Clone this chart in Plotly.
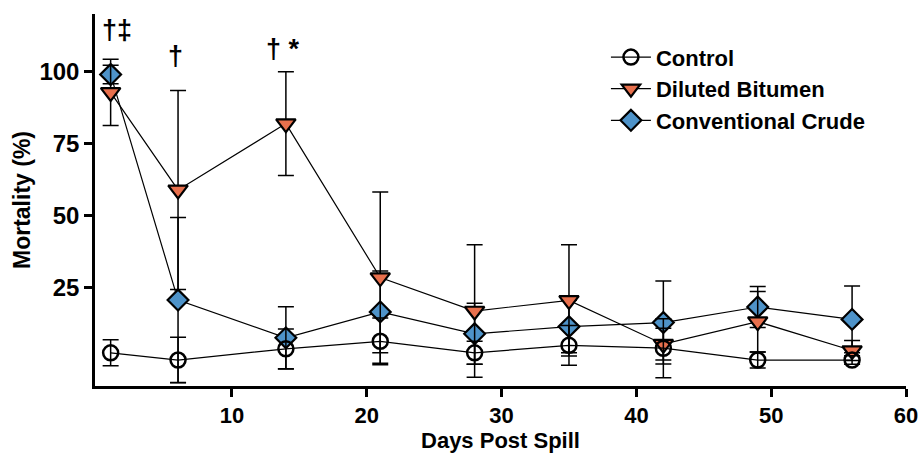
import plotly.graph_objects as go

days = [1, 6, 14, 21, 28, 35, 42, 49, 56]

control = [2.5, 0, 3.9, 6.5, 2.5, 5.1, 4.1, 0, 0]
control_err = [4.5, 7.9, 6.9, 8.1, 4.0, 6.9, 10.2, 2.8, 1.5]

dilbit = [92.8, 59, 82, 28.6, 17, 20.7, 5.5, 13.3, 3.3]
dilbit_err = [11.5, 34.5, 18, 29.7, 23, 19.3, 5.5, 10.5, 3.5]

crude = [99, 20.8, 7.7, 16.7, 9.1, 11.6, 13, 18.4, 14.1]
crude_err = [3.2, 28.6, 10.8, 14.2, 10.6, 9.1, 14.4, 7.1, 11.6]

x_ticks = [10, 20, 30, 40, 50, 60]
y_ticks = [25, 50, 75, 100]

annot_x = [1.5, 5.8, 13.8]
annot_y = [114.3, 105.3, 107.8]
annot_text = ["†‡", "†", "† *"]

ORANGE = "#E8704D"
BLUE = "#4E93C9"

fig = go.Figure()

err_style = dict(type="data", visible=True, color="black", thickness=1.5, width=8)

fig.add_trace(go.Scatter(
    x=days, y=crude, name="<b>Conventional Crude</b>", mode="lines+markers",
    line=dict(color="black", width=1.2),
    marker=dict(symbol="diamond", size=16, color=BLUE, line=dict(color="black", width=2.2)),
    error_y=dict(array=crude_err, **err_style), legendrank=3,
))
fig.add_trace(go.Scatter(
    x=days, y=dilbit, name="<b>Diluted Bitumen</b>", mode="lines+markers",
    line=dict(color="black", width=1.2),
    marker=dict(symbol="triangle-down", size=17, color=ORANGE, line=dict(color="black", width=2.2)),
    error_y=dict(array=dilbit_err, **err_style), legendrank=2,
))
fig.add_trace(go.Scatter(
    x=days, y=control, name="<b>Control</b>", mode="lines+markers",
    line=dict(color="black", width=1.2),
    marker=dict(symbol="circle-open", size=15, color="black", line=dict(color="black", width=2.5)),
    error_y=dict(array=control_err, **err_style), legendrank=1,
))

for xa, ya, t in zip(annot_x, annot_y, annot_text):
    fig.add_annotation(x=xa, y=ya, text="<b>" + t + "</b>", showarrow=False,
                       font=dict(size=27, color="black", family="Arial, Liberation Sans"),
                       xanchor="center", yanchor="middle")

fig.update_layout(
    width=919, height=462,
    margin=dict(l=95, r=13, t=14, b=76),
    paper_bgcolor="white", plot_bgcolor="white",
    font=dict(family="Arial, Liberation Sans", color="black"),
    showlegend=True,
    legend=dict(x=0.63, y=0.94, xanchor="left", yanchor="top",
                font=dict(size=22, color="black", family="Arial, Liberation Sans"),
                bgcolor="rgba(0,0,0,0)", itemwidth=40),
    xaxis=dict(
        range=[-0.16, 60], tickvals=x_ticks, ticktext=["<b>%d</b>" % v for v in x_ticks],
        showline=True, linecolor="black", linewidth=2.5, ticks="outside", ticklen=8,
        tickwidth=2.5, tickcolor="black", showgrid=False, zeroline=False, automargin=False,
        tickfont=dict(size=22, family="Liberation Sans Narrow, Arial Narrow, Arial"),
        title=dict(text="<b>Days Post Spill</b>", standoff=2,
                   font=dict(size=22, family="Liberation Sans Narrow, Arial Narrow, Arial")),
    ),
    yaxis=dict(
        range=[-9, 120], tickvals=y_ticks, ticktext=["<b>%d</b>" % v for v in y_ticks],
        showline=True, linecolor="black", linewidth=2.5, ticks="outside", ticklen=8,
        tickwidth=2.5, tickcolor="black", showgrid=False, zeroline=False, automargin=False,
        tickfont=dict(size=24),
        title=dict(text="<b>Mortality (%)</b>", standoff=3, font=dict(size=23)),
    ),
)

# remove the default 8px page margin so the 919x462 figure fills the window exactly
fig.write_html("out.html", config={"displayModeBar": False},
               post_script="document.body.style.margin='0';")
